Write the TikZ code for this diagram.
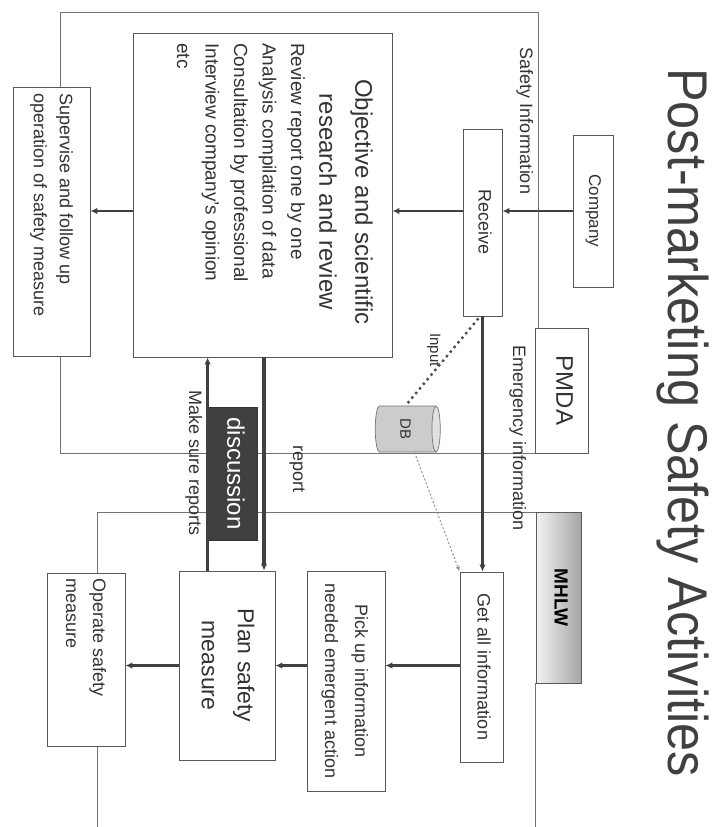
\documentclass[tikz,border=0pt]{standalone}
\usepackage{fontspec}
\setmainfont{Liberation Sans}
\usetikzlibrary{arrows.meta,shapes.geometric,calc}
\newcommand{\fs}[2]{\fontsize{#1}{#2}\selectfont}
\newcommand{\vt}[1]{\rotatebox[origin=c]{-90}{\begin{tabular}{@{}c@{}}#1\end{tabular}}}
\newcommand{\vl}[2]{\rotatebox[origin=c]{-90}{\parbox{#1}{\raggedright #2}}}
\tikzset{
  box/.style={draw=black!65,fill=white,line width=0.8pt,inner sep=0pt,text=black!80},
  lbl/.style={rotate=-90,inner sep=0pt,text=black!80},
  frame/.style={draw=black!55,line width=0.7pt},
  arr/.style={draw=black!75,line width=2.6pt,-{Latex[length=7pt,width=6.5pt]}},
  dbase/.style={cylinder,shape border rotate=0,draw=black!55,line width=0.7pt,shape aspect=0.4,
    cylinder uses custom fill,cylinder body fill=black!20,cylinder end fill=black!12,
    minimum width=46pt,minimum height=65pt,inner sep=0pt}
}
\begin{document}
\begin{tikzpicture}[x=1pt,y=-1pt]
\fill[white] (0,0) rectangle (716,827);
\useasboundingbox (0,0) rectangle (716,827);
% PMDA and MHLW areas
\draw[frame] (538,330) -- (538,12) -- (60,12) -- (60,453) -- (536,453);
\draw[frame] (536,512) -- (97,512) -- (97,827);
\draw[frame] (535,683) -- (535,827);

\node[lbl,anchor=base west,font=\fs{56}{60},text=black!75] (title) at (668,68)
  {\scalebox{0.9}[1]{Post-marketing Safety Activities}};

\node[box,minimum width=40pt,minimum height=152pt,font=\fs{17}{20}] (company) at (593,211) {\vt{Company}};
\node[box,minimum width=39pt,minimum height=187pt,font=\fs{18}{20}] (receive) at (482.5,222.5) {\vt{Receive}};
\node[box,minimum width=53pt,minimum height=125pt,font=\fs{24}{26}] (pmda) at (561.5,390.5) {\vt{PMDA}};
\node[box,minimum width=259pt,minimum height=324pt] (objbox) at (262.5,195) {};
\node[lbl,align=center,font=\fs{24}{36}] (objtitle) at (346,202)
  {Objective and scientific\\research and review};
\node[lbl,align=left,anchor=north west,font=\fs{19}{28.5}] (objbody) at (305,43)
  {Review report one by one\\Analysis compilation of data\\Consultation by professional\\Interview company's opinion\\etc};
\node[box,minimum width=77pt,minimum height=269pt,font=\fs{18}{26}] (supervise) at (51.5,221.5)
  {\vl{257pt}{Supervise and follow up\\operation of safety measure}};
\node[dbase,font=\fs{15}{17},text=black!80] (db) at (405.5,429) {\rotatebox{-90}{DB}};

\node[box,minimum width=45pt,minimum height=171pt,left color=black!5,right color=black!35,
  font=\bfseries\fs{19}{20},text=black] (mhlw) at (558.5,597.5) {\vt{MHLW}};
\node[box,minimum width=43pt,minimum height=190pt,font=\fs{18}{20}] (getall) at (481.5,667) {\vt{Get all information}};
\node[box,minimum width=78pt,minimum height=220pt,font=\fs{18}{30}] (pickup) at (346,681)
  {\vt{Pick up information\\needed emergent action}};
\node[box,minimum width=96pt,minimum height=189pt,font=\fs{23}{36}] (plan) at (227,665.5)
  {\vt{Plan safety\\measure}};
\node[box,minimum width=78pt,minimum height=173pt,font=\fs{18}{27}] (operate) at (86,659.5)
  {\vl{163pt}{Operate safety\\measure}};
\node[box,draw=black!80,fill=black!75,minimum width=49pt,minimum height=133pt,
  font=\fs{24}{26},text=white] (discussion) at (232.5,473.5) {\vt{discussion}};

% labels
\node[lbl,anchor=base,font=\fs{18}{20}] (safetyinfo) at (520,121) {Safety Information};
\node[lbl,anchor=base,font=\fs{18}{20}] (emergency) at (513,438) {Emergency information};
\node[lbl,anchor=base,font=\fs{15}{17}] (input) at (430,350) {Input};
\node[lbl,anchor=base,font=\fs{18}{20}] (report) at (293,469) {report};
\node[lbl,anchor=base,font=\fs{18}{20}] (makesure) at (189,463) {Make sure reports};

% flow
\coordinate (rpt) at (264,0);
\draw[arr] (company.west) -- (company.west -| receive.east);
\draw[arr] (receive.west |- company.west) -- (objbox.east |- company.west);
\draw[arr] (objbox.west |- company.west) -- (supervise.east |- company.west);
\draw[arr,line width=3pt] (receive.south) -- (receive.south |- getall.north);
\draw[arr] (getall.west |- plan.east) -- (pickup.east |- plan.east);
\draw[arr] (pickup.west |- plan.east) -- (plan.east);
\draw[arr] (plan.west) -- (operate.east |- plan.west);
\draw[arr,line width=3.4pt] (objbox.south -| rpt) -- (plan.north -| rpt);
\draw[arr,line width=2.4pt] (plan.north -| discussion.west) -- (objbox.south -| discussion.west);
\draw[black!70,line width=2.4pt,dash pattern=on 2.4pt off 3.6pt] ($(receive.south)+(-4,2)$) -- (db.north);
\draw[black!45,line width=0.9pt,dash pattern=on 2pt off 2pt,-{Latex[length=5pt,width=4pt]}]
  ($(db.south)+(9,0)$) -- (getall.north west);
\end{tikzpicture}
\end{document}
